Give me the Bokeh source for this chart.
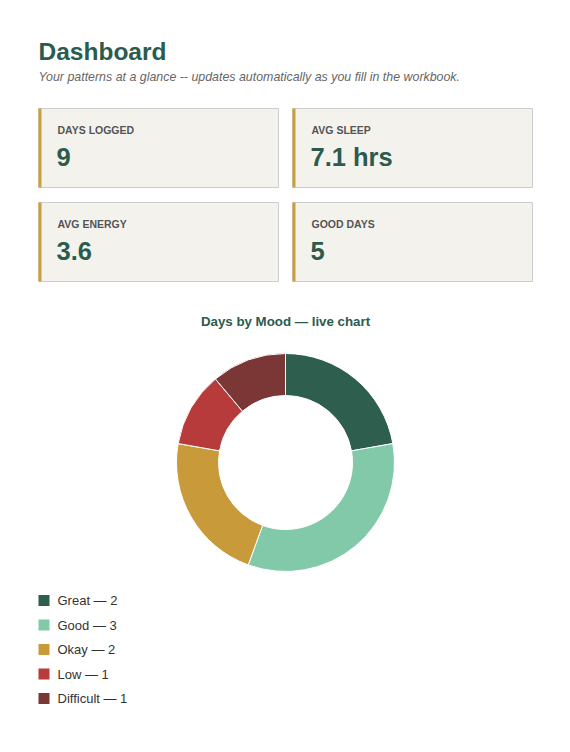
import math
from bokeh.plotting import figure
from bokeh.models import Range1d
from bokeh.core.properties import value
from bokeh.embed import file_html
from bokeh.resources import INLINE

# ---- data ----
stat_labels = ["DAYS LOGGED", "AVG SLEEP", "AVG ENERGY", "GOOD DAYS"]
stat_values = ["9", "7.1 hrs", "3.6", "5"]
moods = ["Great", "Good", "Okay", "Low", "Difficult"]
mood_counts = [2, 3, 2, 1, 1]
mood_colors = ["#2e5e4e", "#82c9aa", "#c99a3a", "#b83b3b", "#7b3636"]

FONT = value("Liberation Sans")
GREEN = "#2b5b4d"

W, H = 562, 744
p = figure(width=W, height=H, output_backend="svg", toolbar_location=None,
           x_range=Range1d(0, W), y_range=Range1d(-H, 0),
           min_border=0, outline_line_color=None, background_fill_color="white",
           border_fill_color="white")
p.axis.visible = False
p.grid.visible = False

def Y(v):
    return -v

# header
p.text(x=[38], y=[Y(50.5)], text=["Dashboard"], text_font=FONT, text_font_size="24.5px",
       text_font_style="bold", text_color=GREEN, text_baseline="middle")
p.text(x=[38], y=[Y(76)], text=["Your patterns at a glance -- updates automatically as you fill in the workbook."],
       text_font=FONT, text_font_size="12.4px", text_font_style="italic", text_color="#666666",
       text_baseline="middle")

# stat cards
card_left = [38, 292, 38, 292]
card_top = [108, 108, 202, 202]
cw, ch = 240, 79
p.quad(left=card_left, right=[l + cw for l in card_left],
       top=[Y(t) for t in card_top], bottom=[Y(t + ch) for t in card_top],
       fill_color="#f4f2ed", line_color="#cccccc", line_width=1)
p.quad(left=card_left, right=[l + 3 for l in card_left],
       top=[Y(t) for t in card_top], bottom=[Y(t + ch) for t in card_top],
       fill_color="#c9a040", line_color=None)
p.text(x=[l + 19 for l in card_left], y=[Y(t + 21) for t in card_top], text=stat_labels,
       text_font=FONT, text_font_size="10.5px", text_font_style="bold", text_color="#555555",
       text_baseline="middle")
p.text(x=[l + 18 for l in card_left], y=[Y(t + 48) for t in card_top], text=stat_values,
       text_font=FONT, text_font_size="25.5px", text_font_style="bold", text_color=GREEN,
       text_baseline="middle")

# chart title
p.text(x=[285], y=[Y(321)], text=["Days by Mood \u2014 live chart"], text_font=FONT,
       text_font_size="13.3px", text_font_style="bold", text_color=GREEN,
       text_align="center", text_baseline="middle")

# donut
total = sum(mood_counts)
starts, ends = [], []
cum = 0
for c in mood_counts:
    starts.append(math.pi / 2 - 2 * math.pi * cum / total)
    cum += c
    ends.append(math.pi / 2 - 2 * math.pi * cum / total)
p.annular_wedge(x=285, y=Y(462), inner_radius=67, outer_radius=109,
                start_angle=starts, end_angle=ends, direction="clock",
                fill_color=mood_colors, line_color="white", line_width=1)

# legend
rows = [600 + 24.5 * i for i in range(len(moods))]
p.rect(x=[43.5] * len(moods), y=[Y(r) for r in rows], width=11, height=11,
       fill_color=mood_colors, line_color=None)
p.text(x=[57] * len(moods), y=[Y(r) for r in rows],
       text=[f"{m} \u2014 {c}" for m, c in zip(moods, mood_counts)],
       text_font=FONT, text_font_size="13px", text_color="#333333", text_baseline="middle")

open("out.html", "w").write(file_html(p, INLINE))
